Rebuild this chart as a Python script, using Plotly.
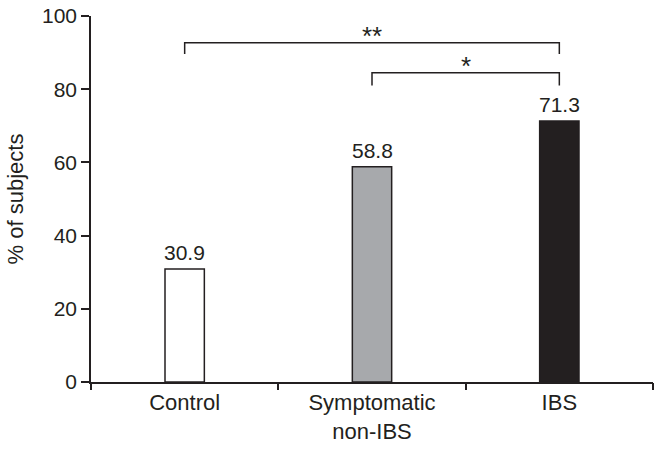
import plotly.graph_objects as go

categories = ["Control", "Symptomatic<br>non-IBS", "IBS"]
values = [30.9, 58.8, 71.3]
value_labels = ["30.9", "58.8", "71.3"]
bar_colors = ["#ffffff", "#a7a9ac", "#231f20"]
y_ticks = [0, 20, 40, 60, 80, 100]

# significance brackets: (start index, end index, top, bottom, label)
brackets = [(0, 2, 92.7, 89.6, "**"), (1, 2, 84.5, 81.0, "*")]

INK = "#231f20"
FONT = "Liberation Sans, Arial, Helvetica, sans-serif"

fig = go.Figure()
fig.add_trace(go.Bar(
    x=list(range(len(categories))),
    y=values,
    width=0.21,
    marker=dict(color=bar_colors, line=dict(color=INK, width=1.5)),
    showlegend=False,
    hoverinfo="skip",
))

annotations = []
for i, (v, t) in enumerate(zip(values, value_labels)):
    annotations.append(dict(x=i, y=v, xref="x", yref="y", text=t, showarrow=False,
                            yanchor="bottom", yshift=3,
                            font=dict(size=21, color=INK, family=FONT)))

shapes = []
for a, b, top, bot, lab in brackets:
    shapes.append(dict(type="path", xref="x", yref="y",
                       path=f"M {a},{bot} L {a},{top} L {b},{top} L {b},{bot}",
                       line=dict(color=INK, width=1.5)))
    annotations.append(dict(x=(a + b) / 2, y=top, xref="x", yref="y", text=lab,
                            showarrow=False, yanchor="bottom", yshift=-10,
                            font=dict(size=26, color=INK, family=FONT)))

fig.update_layout(
    width=662, height=449,
    margin=dict(l=91, r=9, t=16, b=67, autoexpand=False),
    paper_bgcolor="white", plot_bgcolor="white",
    font=dict(family=FONT, color=INK),
    shapes=shapes,
    annotations=annotations,
    xaxis=dict(
        range=[-0.5, 2.5], automargin=False,
        tickvals=list(range(len(categories))),
        ticktext=categories,
        showline=True, linecolor=INK, linewidth=1.5,
        ticks="", showgrid=False, zeroline=False,
        tickfont=dict(size=22, color=INK, family=FONT),
    ),
    xaxis2=dict(
        overlaying="x", range=[-0.5, 2.5], automargin=False,
        tickvals=[-0.5, 0.5, 1.5, 2.5], ticktext=["", "", "", ""],
        ticks="outside", ticklen=7, tickwidth=1.5, tickcolor=INK,
        showgrid=False, zeroline=False, side="bottom", anchor="y",
    ),
    yaxis=dict(
        range=[0, 100], automargin=False,
        tickvals=y_ticks,
        showline=True, linecolor=INK, linewidth=1.5,
        ticks="outside", ticklen=8, tickwidth=1.5, tickcolor=INK,
        showgrid=False, zeroline=False,
        tickfont=dict(size=21, color=INK, family=FONT),
        title=dict(text="% of subjects", font=dict(size=22, color=INK, family=FONT), standoff=12),
    ),
)
# invisible trace to activate the boundary-tick axis
fig.add_trace(go.Scatter(x=[-0.5], y=[0], xaxis="x2", mode="markers",
                         marker=dict(opacity=0), showlegend=False, hoverinfo="skip"))

fig.write_html("out.html", config={"displayModeBar": False},
               post_script="document.body.style.margin='0';")
